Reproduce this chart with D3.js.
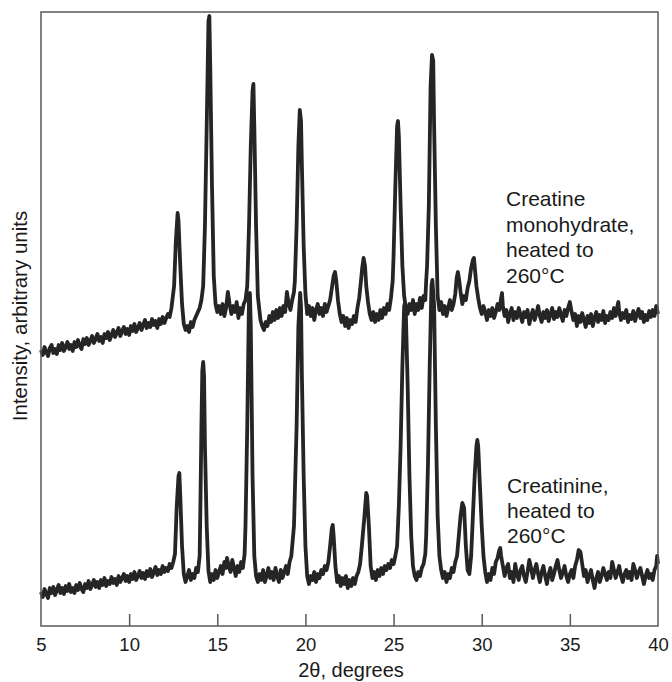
<!DOCTYPE html>
<html>
<head>
<meta charset="utf-8">
<script src="https://cdn.jsdelivr.net/npm/d3@7"></script>
<style>
  html, body { margin: 0; padding: 0; background: #fff; }
  svg { display: block; }
  text { font-family: "Liberation Sans", Arial, Helvetica, sans-serif; fill: #1a1a1a; }
</style>
</head>
<body>
<svg id="chart" width="672" height="682"></svg>
<script>
// ---- data (2θ in degrees, intensity in arbitrary units) ----
const xTicks = [5, 10, 15, 20, 25, 30, 35, 40];
const xTitle = "2\u03B8, degrees";
const yTitle = "Intensity, arbitrary units";
const labelCreatine = ["Creatine", "monohydrate,", "heated to", "260\u00B0C"];
const labelCreatinine = ["Creatinine,", "heated to", "260\u00B0C"];

const creatineMonohydrate = [
 [5.0,276],[5.1,271],[5.2,279],[5.3,274],[5.4,270],[5.5,278],[5.6,281],[5.7,273],[5.8,277],[5.9,272],
 [6.0,281],[6.1,276],[6.2,283],[6.3,275],[6.4,279],[6.5,284],[6.6,277],[6.7,281],[6.8,275],[6.9,284],
 [7.0,279],[7.1,286],[7.2,280],[7.3,277],[7.4,287],[7.5,282],[7.6,288],[7.7,281],[7.8,285],[7.9,290],
 [8.0,283],[8.1,287],[8.2,292],[8.3,285],[8.4,289],[8.5,283],[8.6,292],[8.7,288],[8.8,294],[8.9,286],
 [9.0,291],[9.1,296],[9.2,289],[9.3,293],[9.4,298],[9.5,290],[9.6,295],[9.7,299],[9.8,292],[9.9,297],
 [10.0,291],[10.1,300],[10.2,295],[10.3,302],[10.4,294],[10.5,298],[10.6,303],[10.7,296],[10.8,301],[10.9,306],
 [11.0,298],[11.1,303],[11.2,299],[11.3,307],[11.4,301],[11.5,305],[11.6,298],[11.7,307],[11.8,302],[11.9,309],
 [12.0,303],[12.1,308],[12.2,312],[12.3,309],[12.4,318],[12.55,340],[12.65,385],[12.75,413],[12.8,405],[12.9,360],
 [13.0,322],[13.1,302],[13.2,296],[13.3,300],[13.4,294],[13.5,304],[13.6,299],[13.7,306],[13.8,310],[13.9,314],
 [14.0,318],[14.1,326],[14.2,340],[14.3,400],[14.4,500],[14.5,605],[14.55,610],[14.6,560],[14.7,440],[14.8,350],
 [14.9,322],[15.0,314],[15.1,320],[15.2,312],[15.3,322],[15.4,310],[15.5,318],[15.6,334],[15.7,322],[15.8,312],
 [15.9,320],[16.0,314],[16.1,324],[16.2,308],[16.3,318],[16.4,312],[16.5,322],[16.6,326],[16.7,340],[16.8,400],
 [16.9,480],[17.0,535],[17.05,542],[17.1,500],[17.2,400],[17.3,330],[17.45,306],[17.55,300],[17.65,296],[17.75,304],
 [17.85,300],[17.95,310],[18.05,304],[18.15,314],[18.25,306],[18.35,316],[18.45,308],[18.55,318],[18.65,310],[18.75,320],
 [18.85,314],[18.95,334],[19.05,322],[19.15,316],[19.25,326],[19.35,334],[19.4,345],[19.5,400],[19.6,480],[19.68,516],
 [19.75,505],[19.8,460],[19.9,380],[20.0,332],[20.1,312],[20.2,320],[20.3,310],[20.4,318],[20.5,306],[20.6,316],
 [20.7,322],[20.8,312],[20.9,318],[21.0,310],[21.1,322],[21.2,314],[21.3,320],[21.4,326],[21.5,338],[21.6,350],
 [21.68,354],[21.75,345],[21.85,325],[21.95,312],[22.05,304],[22.15,310],[22.25,300],[22.35,308],[22.45,298],[22.55,306],
 [22.65,302],[22.75,310],[22.85,304],[22.95,318],[23.05,328],[23.15,345],[23.22,358],[23.3,368],[23.38,360],[23.45,340],
 [23.55,324],[23.65,312],[23.75,306],[23.85,314],[23.95,304],[24.05,312],[24.15,306],[24.25,316],[24.35,308],[24.45,318],
 [24.55,312],[24.65,322],[24.75,316],[24.85,328],[24.95,345],[25.0,370],[25.1,440],[25.2,500],[25.25,505],[25.3,490],
 [25.4,420],[25.5,360],[25.6,330],[25.7,318],[25.8,312],[25.9,322],[26.0,316],[26.1,326],[26.2,312],[26.3,322],
 [26.4,316],[26.5,328],[26.6,318],[26.7,330],[26.8,326],[26.85,345],[26.9,360],[27.0,420],[27.1,540],[27.18,571],
 [27.25,565],[27.3,500],[27.4,400],[27.5,330],[27.6,316],[27.7,324],[27.8,312],[27.9,320],[28.0,310],[28.1,318],
 [28.2,326],[28.3,316],[28.4,322],[28.5,332],[28.58,348],[28.65,354],[28.72,346],[28.8,334],[28.9,322],[29.0,330],
 [29.1,326],[29.2,338],[29.3,345],[29.4,358],[29.5,366],[29.56,368],[29.62,356],[29.7,340],[29.8,328],[29.9,318],
 [30.0,312],[30.1,320],[30.2,314],[30.3,306],[30.4,316],[30.5,310],[30.6,318],[30.7,308],[30.8,314],[30.9,322],
 [31.0,316],[31.1,328],[31.15,333],[31.2,320],[31.3,310],[31.4,316],[31.5,304],[31.6,312],[31.7,318],[31.8,306],
 [31.9,314],[32.0,308],[32.1,318],[32.2,311],[32.3,304],[32.4,314],[32.5,309],[32.6,316],[32.7,302],[32.8,310],
 [32.9,316],[33.0,306],[33.1,312],[33.2,320],[33.3,310],[33.4,304],[33.5,314],[33.6,308],[33.7,316],[33.8,305],
 [33.9,312],[34.0,318],[34.1,307],[34.2,314],[34.3,309],[34.4,318],[34.5,311],[34.6,305],[34.7,316],[34.8,310],
 [34.9,318],[35.0,324],[35.1,314],[35.2,306],[35.3,312],[35.4,300],[35.5,310],[35.6,304],[35.7,313],[35.8,306],
 [35.9,299],[36.0,310],[36.1,303],[36.2,312],[36.3,300],[36.4,308],[36.5,314],[36.6,304],[36.7,311],[36.8,306],
 [36.9,315],[37.0,303],[37.1,310],[37.2,306],[37.3,314],[37.4,308],[37.5,318],[37.6,310],[37.7,320],[37.75,324],
 [37.8,314],[37.9,306],[38.0,313],[38.1,308],[38.2,316],[38.3,304],[38.4,311],[38.5,307],[38.6,315],[38.7,305],
 [38.8,312],[38.9,317],[39.0,308],[39.1,314],[39.2,304],[39.3,311],[39.4,306],[39.5,315],[39.6,309],[39.7,316],
 [39.8,310],[39.9,320],[40.0,312]
];

const creatinine = [
 [5.0,34],[5.1,29],[5.2,37],[5.3,32],[5.4,28],[5.5,38],[5.6,33],[5.7,39],[5.8,31],[5.9,36],
 [6.0,41],[6.1,33],[6.2,38],[6.3,32],[6.4,40],[6.5,35],[6.6,42],[6.7,34],[6.8,38],[6.9,33],
 [7.0,41],[7.1,36],[7.2,43],[7.3,37],[7.4,34],[7.5,42],[7.6,38],[7.7,45],[7.8,37],[7.9,41],
 [8.0,46],[8.1,39],[8.2,44],[8.3,38],[8.4,46],[8.5,41],[8.6,48],[8.7,40],[8.8,45],[8.9,42],
 [9.0,49],[9.1,43],[9.2,47],[9.3,41],[9.4,50],[9.5,44],[9.6,48],[9.7,52],[9.8,45],[9.9,50],
 [10.0,44],[10.1,52],[10.2,47],[10.3,54],[10.4,46],[10.5,50],[10.6,55],[10.7,48],[10.8,53],[10.9,47],
 [11.0,55],[11.1,50],[11.2,57],[11.3,49],[11.4,54],[11.5,59],[11.6,51],[11.7,56],[11.8,52],[11.9,60],
 [12.0,54],[12.1,58],[12.2,55],[12.3,62],[12.4,58],[12.5,64],[12.6,72],[12.7,120],[12.8,150],[12.85,153],
 [12.9,130],[13.0,80],[13.1,52],[13.2,44],[13.3,50],[13.4,56],[13.5,46],[13.6,52],[13.7,48],[13.8,58],
 [13.9,54],[14.0,70],[14.05,130],[14.1,200],[14.15,255],[14.2,264],[14.25,250],[14.3,180],[14.4,100],[14.5,55],
 [14.6,44],[14.7,52],[14.8,46],[14.9,56],[15.0,48],[15.1,54],[15.2,60],[15.3,52],[15.4,64],[15.5,58],
 [15.55,68],[15.65,60],[15.75,54],[15.85,66],[15.95,58],[16.05,50],[16.15,60],[16.25,54],[16.35,64],[16.45,58],
 [16.55,72],[16.6,100],[16.7,200],[16.8,330],[16.85,333],[16.9,300],[17.0,150],[17.1,70],[17.2,50],[17.3,44],
 [17.4,52],[17.5,46],[17.6,56],[17.7,44],[17.8,50],[17.9,58],[18.0,48],[18.1,54],[18.2,46],[18.3,58],
 [18.4,50],[18.5,44],[18.6,56],[18.7,48],[18.8,54],[18.9,60],[19.0,52],[19.1,64],[19.2,70],[19.35,100],
 [19.5,200],[19.6,300],[19.7,333],[19.75,320],[19.8,250],[19.9,150],[20.0,80],[20.1,50],[20.2,42],[20.3,50],
 [20.4,46],[20.5,54],[20.6,44],[20.7,52],[20.8,48],[20.9,56],[21.0,52],[21.1,60],[21.2,56],[21.3,64],
 [21.4,80],[21.5,98],[21.55,101],[21.6,90],[21.7,60],[21.8,44],[21.9,50],[22.0,40],[22.1,48],[22.2,42],
 [22.3,50],[22.4,38],[22.5,46],[22.6,40],[22.7,48],[22.8,42],[22.9,50],[23.0,54],[23.1,62],[23.2,80],
 [23.35,110],[23.45,133],[23.5,130],[23.6,100],[23.7,60],[23.8,48],[23.9,54],[24.0,46],[24.1,56],[24.2,50],
 [24.3,58],[24.4,52],[24.5,60],[24.6,56],[24.7,62],[24.8,58],[24.9,66],[25.0,62],[25.1,70],[25.2,80],
 [25.3,120],[25.4,180],[25.5,260],[25.6,320],[25.65,323],[25.7,310],[25.8,240],[25.9,150],[26.0,90],[26.1,60],
 [26.2,50],[26.3,46],[26.4,54],[26.5,50],[26.6,58],[26.7,62],[26.8,72],[26.85,90],[26.95,160],[27.05,260],
 [27.15,340],[27.2,346],[27.3,320],[27.4,200],[27.5,110],[27.6,70],[27.7,56],[27.8,48],[27.9,54],[28.0,44],
 [28.1,52],[28.2,48],[28.3,58],[28.4,54],[28.5,64],[28.6,70],[28.7,90],[28.8,110],[28.9,123],[29.0,118],
 [29.1,80],[29.2,56],[29.3,52],[29.4,70],[29.5,110],[29.6,150],[29.7,180],[29.75,186],[29.8,180],[29.9,140],
 [30.0,100],[30.1,70],[30.2,54],[30.3,44],[30.4,52],[30.5,46],[30.6,58],[30.7,52],[30.8,64],[30.9,68],
 [31.0,76],[31.05,78],[31.1,70],[31.2,60],[31.3,50],[31.4,58],[31.5,62],[31.6,48],[31.7,54],[31.8,44],
 [31.9,62],[32.0,52],[32.1,46],[32.2,56],[32.3,60],[32.4,50],[32.5,44],[32.6,54],[32.7,66],[32.8,58],
 [32.9,48],[33.0,56],[33.1,62],[33.2,52],[33.3,44],[33.4,54],[33.5,60],[33.6,50],[33.7,42],[33.8,52],
 [33.9,58],[34.0,46],[34.1,52],[34.2,60],[34.3,66],[34.4,56],[34.5,48],[34.6,54],[34.7,60],[34.8,50],
 [34.9,44],[35.0,52],[35.1,56],[35.2,48],[35.3,60],[35.4,66],[35.5,76],[35.6,74],[35.7,62],[35.8,50],
 [35.9,56],[36.0,44],[36.1,50],[36.2,56],[36.3,46],[36.4,38],[36.5,48],[36.6,54],[36.7,44],[36.8,50],
 [36.9,58],[37.0,52],[37.1,46],[37.2,54],[37.3,48],[37.4,64],[37.5,56],[37.6,48],[37.7,54],[37.8,60],
 [37.9,50],[38.0,44],[38.1,52],[38.2,56],[38.3,48],[38.4,54],[38.5,46],[38.6,62],[38.7,56],[38.8,48],
 [38.9,54],[39.0,58],[39.1,50],[39.2,42],[39.3,50],[39.4,56],[39.5,48],[39.6,52],[39.7,46],[39.8,56],
 [39.9,60],[39.95,70],[40.0,62]
];

// ---- layout ----
const plotLeft = 41, plotRight = 658, plotTop = 12, plotBottom = 626;
const svg = d3.select("#chart");

const x = d3.scaleLinear().domain([5, 40]).range([plotLeft, plotRight]);
const y = d3.scaleLinear().domain([0, 614]).range([plotBottom, plotTop]);

// traces
const line = d3.line().x(d => x(d[0])).y(d => y(d[1]));
const traceColor = "#252525";
[creatineMonohydrate, creatinine].forEach(series => {
  svg.append("path")
    .datum(series)
    .attr("d", line)
    .attr("fill", "none")
    .attr("stroke", traceColor)
    .attr("stroke-width", 3.8)
    .attr("stroke-linejoin", "round");
});

// frame
svg.append("rect")
  .attr("x", plotLeft).attr("y", plotTop)
  .attr("width", plotRight - plotLeft).attr("height", plotBottom - plotTop)
  .attr("fill", "none").attr("stroke", "#5a5a5a").attr("stroke-width", 1.5);

// bottom axis with inward ticks
const xAxis = d3.axisBottom(x).tickValues(xTicks).tickSizeInner(-12).tickSizeOuter(0).tickPadding(12)
  .tickFormat(d3.format("d"));
const gx = svg.append("g").attr("transform", `translate(0,${plotBottom})`).call(xAxis);
gx.select(".domain").remove();
gx.selectAll(".tick line").attr("stroke", "#5a5a5a").attr("stroke-width", 1.5)
  .filter(d => d === 5 || d === 40).remove();
gx.selectAll(".tick text").attr("font-size", 18.5).attr("fill", "#1a1a1a")
  .attr("font-family", "Liberation Sans, Arial, sans-serif");

// axis titles
svg.append("text").attr("x", 351).attr("y", 677).attr("text-anchor", "middle")
  .attr("font-size", 20).text(xTitle);
svg.append("text").attr("transform", "translate(27,316) rotate(-90)").attr("text-anchor", "middle")
  .attr("font-size", 20.5).text(yTitle);

// annotations
const ann1 = svg.append("text").attr("font-size", 21);
labelCreatine.forEach((t, i) => ann1.append("tspan").attr("x", 506).attr("y", 206 + i * 25.5).text(t));
const ann2 = svg.append("text").attr("font-size", 21);
labelCreatinine.forEach((t, i) => ann2.append("tspan").attr("x", 507).attr("y", 493 + i * 25).text(t));
</script>
</body>
</html>
